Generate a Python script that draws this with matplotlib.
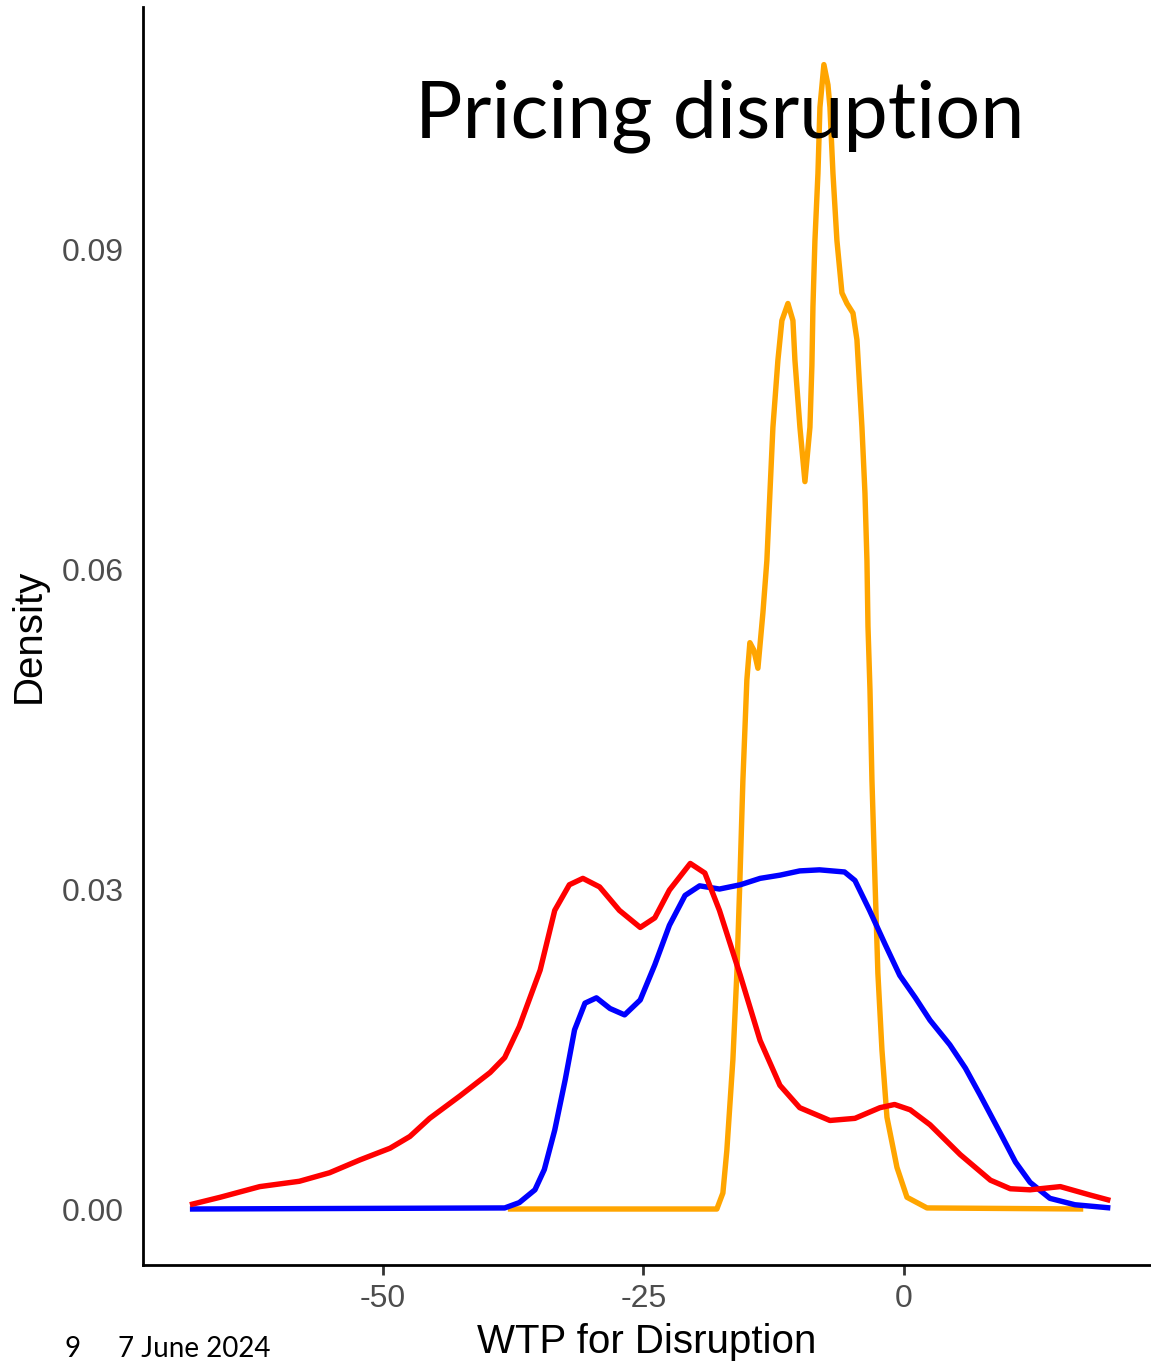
import matplotlib
matplotlib.use("Agg")
import matplotlib.pyplot as plt
from matplotlib.ticker import FormatStrFormatter

plt.rcParams["axes.unicode_minus"] = False

# Кривые плотности (WTP, плотность)
red_x = [-68.5, -65.6, -61.8, -58.0, -55.1, -52.2, -49.3, -47.4, -45.5, -42.6,
         -39.7, -38.3, -36.9, -34.9, -33.5, -32.1, -30.8, -29.2, -27.3, -25.3,
         -23.9, -22.5, -20.5, -19.1, -17.7, -15.7, -13.8, -11.9, -10.0, -7.1,
         -4.7, -2.3, -0.9, 0.6, 2.5, 5.4, 8.3, 10.2, 12.1, 15.0, 17.9, 19.8]
red_y = [0.0004, 0.0011, 0.0021, 0.0026, 0.0034, 0.0046, 0.0057, 0.0068, 0.0085, 0.0106,
         0.0128, 0.0142, 0.0171, 0.0224, 0.0280, 0.0304, 0.0310, 0.0302, 0.0280, 0.0264,
         0.0273, 0.0299, 0.0324, 0.0315, 0.0280, 0.0219, 0.0158, 0.0116, 0.0095, 0.0083,
         0.0085, 0.0095, 0.0098, 0.0093, 0.0079, 0.0051, 0.0027, 0.0019, 0.0018, 0.0021,
         0.0013, 0.0008]

blue_x = [-68.5, -38.3, -36.9, -35.4, -34.5, -33.5, -32.5, -31.6, -30.6, -29.5,
          -28.2, -26.8, -25.3, -23.9, -22.5, -21.0, -19.6, -17.7, -15.7, -13.8,
          -11.9, -10.0, -8.1, -5.7, -4.7, -3.3, -1.8, -0.4, 1.1, 2.5,
          4.4, 5.9, 7.3, 9.2, 10.7, 12.1, 14.0, 16.4, 19.8]
blue_y = [0.0, 0.0001, 0.0006, 0.0018, 0.0037, 0.0074, 0.0121, 0.0168, 0.0193, 0.0198,
          0.0188, 0.0182, 0.0196, 0.0229, 0.0266, 0.0294, 0.0303, 0.0300, 0.0304, 0.0310,
          0.0313, 0.0317, 0.0318, 0.0316, 0.0308, 0.0280, 0.0248, 0.0219, 0.0198, 0.0177,
          0.0154, 0.0132, 0.0107, 0.0072, 0.0044, 0.0025, 0.0010, 0.0004, 0.0001]

orange_x = [-38.0, -17.95, -17.37, -16.99, -16.41, -16.03, -15.74, -15.45, -15.07, -14.78,
            -14.40, -14.01, -13.53, -13.15, -12.86, -12.57, -12.09, -11.71, -11.13, -10.65,
            -10.46, -9.98, -9.50, -9.02, -8.83, -8.73, -8.54, -8.25, -8.06, -7.68,
            -7.29, -7.10, -6.81, -6.43, -5.95, -5.47, -4.89, -4.51, -4.03, -3.74,
            -3.55, -3.45, -3.26, -3.07, -2.78, -2.50, -2.11, -1.63, -0.67, 0.29,
            2.21, 17.2]
orange_y = [0.0, 0.0, 0.0015, 0.0055, 0.0140, 0.0221, 0.0308, 0.0402, 0.0496, 0.0531,
            0.0524, 0.0507, 0.0559, 0.0608, 0.0671, 0.0733, 0.0796, 0.0833, 0.0849, 0.0833,
            0.0796, 0.0733, 0.0682, 0.0733, 0.0791, 0.0846, 0.0908, 0.0971, 0.1033, 0.1073,
            0.1054, 0.1033, 0.0971, 0.0908, 0.0859, 0.0849, 0.0840, 0.0815, 0.0733, 0.0671,
            0.0608, 0.0546, 0.0487, 0.0402, 0.0308, 0.0221, 0.0149, 0.0086, 0.0039, 0.0011,
            0.0001, 0.0]

x_ticks = [-50, -25, 0]
y_ticks = [0.00, 0.03, 0.06, 0.09]

W, H = 1151, 1363
fig = plt.figure(figsize=(W / 100, H / 100), dpi=100)
ax = fig.add_axes([143 / W, 1 - 1265 / H, 1 - 143 / W, (1265 - 7) / H])

line_kw = dict(lw=3.9, solid_capstyle="butt", solid_joinstyle="round")
ax.plot(orange_x, orange_y, color="#FFA500", **line_kw)
ax.plot(blue_x, blue_y, color="#0000FF", **line_kw)
ax.plot(red_x, red_y, color="#FF0000", **line_kw)

ax.set_xlim(-73.0, 23.7)
ax.set_ylim(-0.00525, 0.1127)
ax.set_xticks(x_ticks)
ax.set_yticks(y_ticks)
ax.yaxis.set_major_formatter(FormatStrFormatter("%.2f"))

for s in ["top", "right"]:
    ax.spines[s].set_visible(False)
for s in ["left", "bottom"]:
    ax.spines[s].set_linewidth(2.0)
    ax.spines[s].set_color("black")

ax.tick_params(axis="x", length=7, width=2, color="#333333", pad=7,
               labelsize=23, labelcolor="#4D4D4D")
ax.tick_params(axis="y", length=0, pad=14, labelsize=23, labelcolor="#4D4D4D")
for lab in ax.get_xticklabels() + ax.get_yticklabels():
    lab.set_fontfamily("Liberation Sans")

ax.set_xlabel("WTP for Disruption", fontsize=29, fontfamily="Liberation Sans", labelpad=6)
ax.set_ylabel("Density", fontsize=29, fontfamily="Liberation Sans", labelpad=10)

fig.text(720 / W, 1 - 137 / H, "Pricing disruption", fontsize=57, fontfamily="Lato",
         ha="center", va="baseline")
fig.text(65 / W, 1 - 1357 / H, "9", fontsize=20, fontfamily="Lato", va="baseline")
fig.text(118 / W, 1 - 1357 / H, "7 June 2024", fontsize=20, fontfamily="Lato", va="baseline")

fig.savefig("out.png", dpi=100)
